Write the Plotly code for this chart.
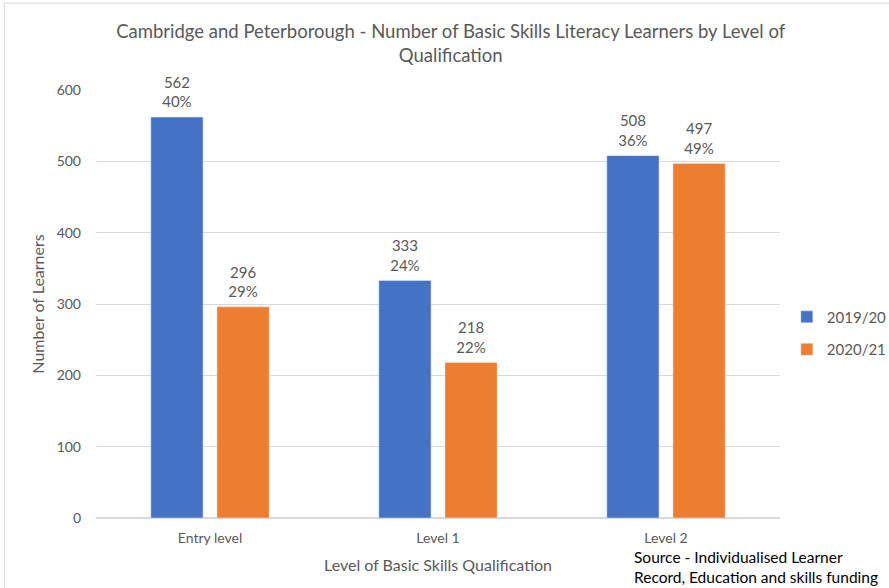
import plotly.graph_objects as go

levels = ["Entry level", "Level 1", "Level 2"]
learners_1920 = [562, 333, 508]
learners_2021 = [296, 218, 497]
share_1920 = ["40%", "24%", "36%"]
share_2021 = ["29%", "22%", "49%"]

font_family = "Lato, 'Open Sans', sans-serif"
grey = "#595959"
colors = {"2019/20": "#4472C4", "2020/21": "#ED7D31"}
series = [
    ("2019/20", learners_1920, share_1920),
    ("2020/21", learners_2021, share_2021),
]

fig = go.Figure()
for name, values, shares in series:
    fig.add_trace(go.Bar(x=levels, y=values, name=name, legendgroup=name,
                         marker_color=colors[name]))
# data labels as grouped text points so they line up with the bars
for name, values, shares in series:
    fig.add_trace(go.Scatter(
        x=levels, y=values, mode="markers+text", showlegend=False, hoverinfo="skip",
        text=[f"{v}<br>{s}" for v, s in zip(values, shares)],
        textposition="top center",
        marker=dict(size=8, color="rgba(0,0,0,0)"),
        textfont=dict(size=15, color=grey, family=font_family),
        cliponaxis=False,
    ))

fig.update_layout(
    width=889, height=588,
    paper_bgcolor="white", plot_bgcolor="white",
    font=dict(family=font_family, color=grey, size=14),
    title=dict(
        text="Cambridge and Peterborough - Number of Basic Skills Literacy Learners by Level of<br>Qualification",
        x=0.507, xanchor="center", y=0.935, yanchor="top",
        font=dict(size=18.5, color=grey, family=font_family),
    ),
    margin=dict(l=96, r=109, t=90, b=70, autoexpand=False),
    barmode="group", bargap=0.42, bargroupgap=0.21,
    scattermode="group", scattergap=0.42,
    showlegend=True,
    legend=dict(
        x=1.01, xanchor="left", y=0.432, yanchor="middle",
        font=dict(size=15, color=grey), tracegroupgap=10,
    ),
    yaxis=dict(
        range=[0, 600], dtick=100, showgrid=True, gridcolor="#D9D9D9",
        zeroline=True, zerolinecolor="#D9D9D9", ticks="", ticklabelstandoff=14,
        title=dict(text="Number of Learners", font=dict(size=16, color=grey), standoff=8),
        tickfont=dict(size=14, color=grey),
    ),
    xaxis=dict(
        showline=False, ticks="", ticklabelstandoff=10,
        title=dict(text="Level of Basic Skills Qualification", font=dict(size=16, color=grey), standoff=14),
        tickfont=dict(size=14, color=grey),
    ),
)

fig.add_annotation(
    xref="paper", yref="paper", x=0.783, y=-0.065, xanchor="left", yanchor="top",
    text="Source - Individualised Learner<br>Record, Education and skills funding",
    showarrow=False, align="left",
    font=dict(size=15.5, color="black", family=font_family),
)

# chart frame: only the top and left edges show in the reference
fig.add_shape(type="line", xref="paper", yref="paper",
              x0=-0.134, x1=1.2, y0=1.203, y1=1.203,
              line=dict(color="#D9D9D9", width=1))
fig.add_shape(type="line", xref="paper", yref="paper",
              x0=-0.134, x1=-0.134, y0=1.203, y1=-0.2,
              line=dict(color="#D9D9D9", width=1))

fig.write_html("out.html", config={"displayModeBar": False},
               post_script="document.body.style.margin='0';")
